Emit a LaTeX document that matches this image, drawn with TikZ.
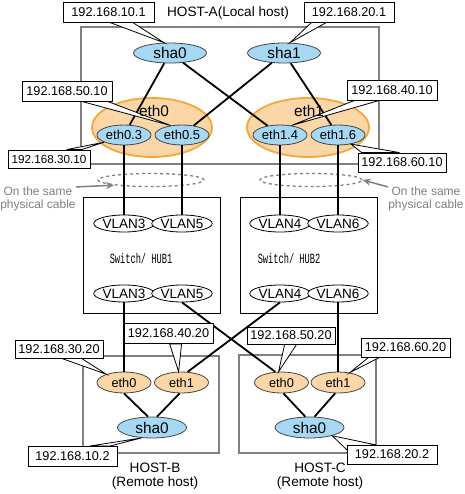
\documentclass[tikz,border=0pt]{standalone}
\usepackage{fontspec}
\usepackage{graphicx}
\setmainfont{Liberation Sans}
\newfontfamily\swfont{Liberation Mono}
\usetikzlibrary{shapes.geometric,calc,arrows.meta}
\definecolor{shablue}{RGB}{166,216,244}
\definecolor{ethorange}{RGB}{251,214,166}
\definecolor{orangeline}{RGB}{244,168,60}
\definecolor{hostgray}{RGB}{128,128,128}
\definecolor{ellgray}{RGB}{70,70,70}
\definecolor{cablegray}{RGB}{128,128,128}
\pgfdeclarelayer{back}
\pgfdeclarelayer{callouts}
\pgfdeclarelayer{front}
\pgfsetlayers{back,main,callouts,front}
\newcommand\ipwedge[4]{\draw[wedge] ($(#1)+(#2,0)$) -- (#4) -- ($(#1)+(#3,0)$) -- cycle;}
\tikzset{
  hostbox/.style={draw=hostgray, line width=1.4pt, inner sep=0},
  swbox/.style={draw=black, line width=0.8pt, inner sep=0},
  orangeell/.style={ellipse, draw=orangeline, fill=ethorange, line width=1.8pt, inner sep=0},
  blueell/.style={ellipse, draw=ellgray, fill=shablue, line width=0.8pt, inner sep=0},
  hostell/.style={ellipse, draw=ellgray, fill=ethorange, line width=0.8pt, inner sep=0, minimum width=54, minimum height=21, font=\fontsize{12.8}{14}\selectfont},
  vlanell/.style={ellipse, draw=black, fill=white, line width=0.8pt, inner sep=0, minimum width=58, minimum height=17, font=\fontsize{13.5}{14}\selectfont},
  shaA/.style={blueell, minimum width=73, minimum height=20, font=\fontsize{15.4}{16}\selectfont},
  vif/.style={blueell, minimum width=54, minimum height=20, font=\fontsize{13}{14}\selectfont},
  shaR/.style={blueell, minimum width=69, minimum height=21, font=\fontsize{15.4}{16}\selectfont},
  ipbox/.style={draw=black, fill=white, line width=0.8pt, inner sep=0, minimum width=90, minimum height=20, font=\fontsize{12.7}{14}\selectfont},
  wedge/.style={draw=black, fill=white, line width=0.8pt, line join=miter},
  conn/.style={draw=black, line width=1.8pt},
  cablering/.style={ellipse, draw=cablegray, dashed, line width=1.3pt, inner sep=0, minimum height=13},
  cabletext/.style={text=cablegray, align=center, inner sep=0, font=\fontsize{12}{12.5}\selectfont},
  cablearrow/.style={draw=cablegray, line width=1.5pt, -{Stealth[length=8pt,width=7pt]}},
  hostlbl/.style={align=center, inner sep=0, font=\fontsize{13.6}{14.5}\selectfont},
  ethlbl/.style={inner sep=0, font=\fontsize{15.4}{16}\selectfont},
  swlbl/.style={inner sep=0, font=\swfont\fontsize{14}{14}\selectfont}
}
\begin{document}
\begin{tikzpicture}[x=1pt,y=-1pt]
\useasboundingbox (0,0) rectangle (464,494);

\begin{pgfonlayer}{back}
\fill[white] (0,0) rectangle (464,494);
\node[hostbox, minimum width=298, minimum height=137] (hostA) at (230,95.5) {};
\node[hostbox, minimum width=136, minimum height=97] (hostB) at (151,404.5) {};
\node[hostbox, minimum width=137, minimum height=98] (hostC) at (307.5,404) {};
\node[swbox, minimum width=137, minimum height=116] (sw1) at (151.5,255) {};
\node[swbox, minimum width=137, minimum height=116] (sw2) at (308.5,255) {};
\node[orangeell, minimum width=120, minimum height=59] (eth0) at (152,127.5) {};
\node[orangeell, minimum width=122, minimum height=59] (eth1) at (308,127.5) {};
\end{pgfonlayer}

% HOST-A
\node[hostlbl] (hostAlbl) at (228,13) {HOST-A(Local host)};
\node[shaA] (sha0A) at (170,53) {sha0};
\node[shaA] (sha1A) at (284,53) {sha1};
\node[vif] (eth03) at (124,135) {eth0.3};
\node[vif] (eth05) at (182,135) {eth0.5};
\node[vif] (eth14) at (280,135) {eth1.4};
\node[vif] (eth16) at (338,135) {eth1.6};

% cables
\node[cablering, minimum width=106] (dashL) at (151,180) {};
\node[cablering, minimum width=102] (dashR) at (311,180) {};
\node[cabletext] (lcable) at (38,199) {On the same\\physical cable};
\node[cabletext] (rcable) at (426,199) {On the same\\physical cable};
\draw[cablearrow] (lcable.north east) -- (dashL.188);
\draw[cablearrow] (rcable.north west) -- (dashR.east);

% switches
\node[vlanell] (vlan3a) at (124,223.5) {VLAN3};
\node[vlanell] (vlan5a) at (182,223.5) {VLAN5};
\node[vlanell] (vlan4a) at (280,223.5) {VLAN4};
\node[vlanell] (vlan6a) at (338,223.5) {VLAN6};
\node[swlbl] (sw1lbl) at (141,258) {\scalebox{0.62}[1]{Switch/ HUB1}};
\node[swlbl] (sw2lbl) at (289,258) {\scalebox{0.62}[1]{Switch/ HUB2}};
\node[vlanell] (vlan3b) at (124,293.5) {VLAN3};
\node[vlanell] (vlan5b) at (182,293.5) {VLAN5};
\node[vlanell] (vlan4b) at (280,293.5) {VLAN4};
\node[vlanell] (vlan6b) at (338,293.5) {VLAN6};

% remote hosts
\node[hostell] (Beth0) at (124,382.5) {eth0};
\node[hostell] (Beth1) at (181.5,382.5) {eth1};
\node[shaR] (Bsha0) at (152,427.5) {sha0};
\node[hostell] (Ceth0) at (281.5,382.5) {eth0};
\node[hostell] (Ceth1) at (338,382.5) {eth1};
\node[shaR] (Csha0) at (309.5,427.5) {sha0};
\node[hostlbl] (hostBlbl) at (155,476) {HOST-B\\(Remote host)};
\node[hostlbl] (hostClbl) at (320,476) {HOST-C\\(Remote host)};

% connectors
\draw[conn] (sha0A) -- (eth03);
\draw[conn] (sha0A) -- (eth14);
\draw[conn] (sha1A) -- (eth05);
\draw[conn] (sha1A) -- (eth16);
\draw[conn] (eth03) -- (vlan3a);
\draw[conn] (eth05) -- (vlan5a);
\draw[conn] (eth14) -- (vlan4a);
\draw[conn] (eth16) -- (vlan6a);
\draw[conn] (vlan3b) -- (Beth0);
\draw[conn] (vlan5b.south) -- (Ceth0.120);
\draw[conn] (vlan4b.south) -- (Beth1.60);
\draw[conn] (vlan6b) -- (Ceth1);
\draw[conn] (Beth0.south) -- (Bsha0.110);
\draw[conn] (Beth1.-100) -- (Bsha0.65);
\draw[conn] (Ceth0.-80) -- (Csha0.111);
\draw[conn] (Ceth1.-105) -- (Csha0.65);

% address boxes and labels on top
\begin{pgfonlayer}{front}
\node[ethlbl] (eth0lbl) at (154,111) {eth0};
\node[ethlbl] (eth1lbl) at (309,111) {eth1};
\node[ipbox, minimum width=91] (ip101) at (108.5,12) {192.168.10.1};
\node[ipbox] (ip201) at (349,12) {192.168.20.1};
\node[ipbox] (ip5010) at (67,91) {192.168.50.10};
\node[ipbox, minimum width=82, minimum height=18, font=\fontsize{11.7}{13}\selectfont] (ip3010) at (49,159) {192.168.30.10};
\node[ipbox] (ip4010) at (392,90) {192.168.40.10};
\node[ipbox, minimum width=88, minimum height=19] (ip6010) at (402,162.5) {192.168.60.10};
\node[ipbox, minimum width=88, minimum height=18] (ip3020) at (59,349) {192.168.30.20};
\node[ipbox, minimum width=89] (ip4020) at (168.5,333.5) {192.168.40.20};
\node[ipbox, minimum width=89] (ip102) at (72.5,456.5) {192.168.10.2};
\node[ipbox, minimum width=88, minimum height=17] (ip5020) at (291,335.5) {192.168.50.20};
\node[ipbox, minimum width=89, minimum height=19] (ip6020) at (405.5,347.5) {192.168.60.20};
\node[ipbox, minimum width=90, minimum height=19] (ip202) at (392,454.5) {192.168.20.2};
\end{pgfonlayer}

\begin{pgfonlayer}{callouts}
\ipwedge{ip101.south west}{47}{70}{sha0A.120}
\ipwedge{ip201.south west}{8}{23}{sha1A.60}
\ipwedge{ip5010.south west}{60}{86}{eth05.140}
\ipwedge{ip3010.north west}{59}{74}{eth03.200}
\ipwedge{ip4010.south west}{8}{33}{eth14.40}
\ipwedge{ip6010.north west}{4}{42}{eth16.-35}
\ipwedge{ip3020.south west}{47}{67}{Beth0.155}
\ipwedge{ip4020.south west}{46}{58}{Beth1.105}
\ipwedge{ip102.north west}{62}{82}{Bsha0.225}
\ipwedge{ip5020.south west}{38}{50}{Ceth0.105}
\ipwedge{ip6020.south west}{8}{19}{Ceth1.40}
\draw[wedge] ($(ip202.north west)+(0,5)$) -- (Csha0.-20) -- ($(ip202.north west)+(28,0)$) -- cycle;
\end{pgfonlayer}
\end{tikzpicture}
\end{document}
